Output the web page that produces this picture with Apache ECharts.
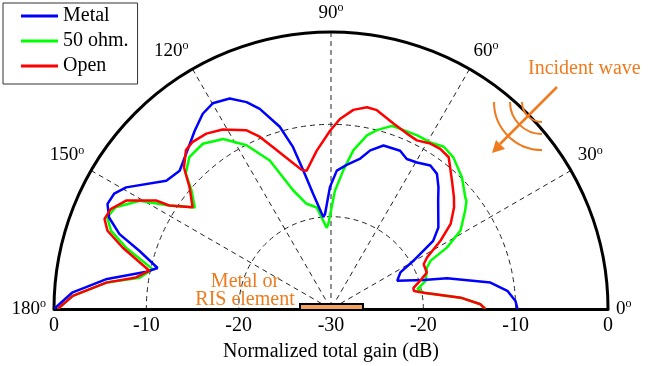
<!DOCTYPE html>
<html>
<head>
<meta charset="utf-8">
<script src="https://cdn.jsdelivr.net/npm/echarts@6/dist/echarts.min.js"></script>
<style>html,body{margin:0;padding:0;background:#fff}#chart{width:670px;height:366px}</style>
</head>
<body>
<div id="chart"></div>
<script>
// angle (deg) and normalized gain (dB)
var metalAng = [0, 2.5, 5.9, 9.4, 14.9, 17.4, 23.1, 27.8, 30.3, 33.7, 37.2, 45.3, 48.6, 51.9, 55.3, 59.6, 63.2, 66.4, 72.2, 76.1, 79.0, 83.8, 87.6, 90.5, 93.6, 94.8, 98.8, 101.3, 103.2, 105.7, 109.6, 112.2, 115.7, 119.9, 123.3, 127.4, 133.0, 137.6, 141.1, 142.1, 149.3, 152.0, 154.8, 157.6, 160.5, 163.1, 166.7, 168.6, 172.5, 176.4, 180];
var metalDb  = [-9.8, -10.0, -10.8, -12.5, -17.0, -19.5, -22.2, -21.5, -19.7, -16.7, -15.4, -13.5, -12.4, -11.4, -11.1, -11.6, -11.8, -11.3, -11.4, -12.3, -13.4, -14.3, -15.0, -16.8, -19.7, -20.0, -17.4, -14.7, -12.0, -9.5, -7.0, -5.8, -4.7, -4.3, -4.7, -5.7, -7.0, -7.8, -7.5, -7.4, -4.2, -3.4, -3.25, -4.0, -5.7, -8.3, -10.7, -9.6, -5.4, -1.9, 0];

var ohmAng = [0, 1.8, 5.0, 10.0, 12.9, 16.6, 23.3, 25.9, 27.9, 31.2, 36.2, 38.7, 39.7, 45.1, 51.1, 55.2, 59.2, 63.6, 67.9, 71.6, 75.6, 78.3, 82.0, 84.9, 88.1, 91.8, 93.0, 98.0, 103.1, 107.7, 112.4, 117.3, 122.4, 127.8, 133.0, 137.0, 139.7, 143.3, 147.4, 150.5, 154.7, 157.7, 160.4, 163.3, 167.4, 170.7, 173.3, 177.1, 180];
var ohmDb  = [-13.3, -13.8, -15.9, -19.8, -20.4, -19.3, -18.7, -18.0, -15.8, -13.6, -12.0, -11.2, -11.1, -9.9, -8.9, -8.6, -9.0, -9.0, -9.1, -9.1, -10.0, -10.8, -12.65, -14.9, -17.2, -20.8, -21.2, -18.9, -18.3, -16.5, -12.6, -10.05, -8.2, -7.35, -7.5, -8.5, -10.2, -11.6, -9.2, -6.2, -4.2, -3.8, -4.7, -6.8, -10.2, -9.0, -5.5, -2.0, -0.4];

var openAng = [0, 1.8, 5.0, 10.0, 12.3, 14.2, 17.5, 20.8, 25.8, 28.2, 32.0, 35.4, 39.6, 42.3, 46.7, 52.2, 55.7, 59.0, 63.0, 66.6, 71.4, 77.0, 79.9, 83.6, 87.3, 90.3, 95.2, 100.0, 101.9, 105.5, 109.7, 112.5, 115.3, 121.1, 125.4, 129.6, 132.4, 136.1, 139.3, 143.7, 147.4, 148.2, 152.1, 155.6, 158.3, 160.7, 163.6, 168.1, 170.8, 173.3, 177.1, 180];
var openDb  = [-13.3, -13.8, -15.9, -19.8, -20.8, -20.8, -19.9, -18.9, -18.85, -18.2, -16.0, -14.1, -12.7, -12.0, -10.9, -9.2, -9.0, -9.1, -9.5, -9.3, -8.8, -7.9, -7.8, -8.3, -9.4, -10.7, -12.8, -14.8, -14.6, -13.3, -11.4, -9.8, -8.6, -7.3, -6.7, -6.5, -6.7, -7.9, -9.8, -11.4, -9.2, -7.7, -4.9, -3.8, -3.6, -4.35, -6.5, -9.9, -8.6, -5.5, -2.0, -0.4];

var angleTicks = [0, 30, 60, 90, 120, 150, 180];
var gainTicks = [-30, -20, -10, 0];

function pairs(ang, db) {
  return ang.map(function (a, i) { return [db[i], a]; });
}

var serif = 'Liberation Serif';
var orange = '#ee7b1e';
var dash = { color: '#222', type: [5, 4], width: 1 };

var chart = echarts.init(document.getElementById('chart'));

var option = {
  animation: false,
  textStyle: { fontFamily: serif },
  legend: {
    left: 3, top: 3,
    orient: 'vertical',
    data: ['Metal', '50 ohm.', 'Open'],
    icon: 'rect',
    itemWidth: 37, itemHeight: 3,
    itemGap: 5,
    padding: [3, 9, 8, 18],
    borderColor: '#333', borderWidth: 1,
    textStyle: { fontFamily: serif, fontSize: 20, color: '#000' }
  },
  polar: { center: [331, 309], radius: 277 },
  angleAxis: {
    type: 'value', min: angleTicks[0], max: angleTicks[angleTicks.length - 1], interval: 30,
    startAngle: 0, endAngle: 180, clockwise: false,
    axisLine: { lineStyle: { color: '#000', width: 3 } },
    axisTick: { show: false },
    splitLine: { lineStyle: dash },
    axisLabel: {
      margin: 8,
      formatter: function (v) { return '{n|' + v + '}{o|o}'; },
      rich: {
        n: { fontFamily: serif, fontSize: 19, color: '#000' },
        o: { fontFamily: serif, fontSize: 12, color: '#000', padding: [0, 0, 10, 0] }
      }
    }
  },
  radiusAxis: {
    type: 'value', min: gainTicks[0], max: gainTicks[gainTicks.length - 1], interval: 10,
    axisLine: { show: false }, axisTick: { show: false }, axisLabel: { show: false },
    splitLine: { lineStyle: dash }
  },
  grid: { left: 54, right: 62, top: 200, bottom: 57 },
  xAxis: {
    type: 'value', min: -30, max: 30, interval: 10,
    axisLine: { lineStyle: { color: '#000', width: 3 } },
    axisTick: { show: false },
    splitLine: { show: false },
    axisLabel: {
      margin: 7, fontFamily: serif, fontSize: 20, color: '#000',
      formatter: function (v) { return String(Math.abs(v) - 30); }
    },
    name: 'Normalized total gain (dB)', nameLocation: 'middle', nameGap: 33,
    nameTextStyle: { fontFamily: serif, fontSize: 20, color: '#000' }
  },
  yAxis: { type: 'value', show: false, min: 0, max: 1 },
  series: [
    { name: '50 ohm.', type: 'line', coordinateSystem: 'polar', data: pairs(ohmAng, ohmDb),
      showSymbol: false, lineStyle: { color: '#00ff00', width: 2.5 }, itemStyle: { color: '#00ff00' } },
    { name: 'Metal', type: 'line', coordinateSystem: 'polar', data: pairs(metalAng, metalDb),
      showSymbol: false, lineStyle: { color: '#0000ff', width: 2.5 }, itemStyle: { color: '#0000ff' } },
    { name: 'Open', type: 'line', coordinateSystem: 'polar', data: pairs(openAng, openDb),
      showSymbol: false, lineStyle: { color: '#ff0000', width: 2.5 }, itemStyle: { color: '#ff0000' } }
  ],
  graphic: [
    { type: 'rect', shape: { x: 300, y: 304, width: 63, height: 6 }, z: 100,
      style: { fill: '#f4a262', stroke: '#000', lineWidth: 2 } },
    { type: 'text', x: 245, y: 273, z: 100,
      style: { text: 'Metal or\nRIS element', fill: orange, font: '20px "Liberation Serif"', align: 'center', lineHeight: 18 } },
    { type: 'text', x: 528, y: 59, z: 100,
      style: { text: 'Incident wave', fill: orange, font: '20px "Liberation Serif"' } },
    { type: 'polyline', z: 100, shape: { points: [[557, 87], [500, 144]] },
      style: { stroke: orange, lineWidth: 2.5 } },
    { type: 'polygon', z: 100, shape: { points: [[492, 153], [505, 149], [496, 140]] },
      style: { fill: orange } },
    { type: 'arc', z: 100, shape: { cx: 542, cy: 102, r: 20, startAngle: Math.PI / 2, endAngle: Math.PI, clockwise: true },
      style: { stroke: orange, lineWidth: 2, fill: null } },
    { type: 'arc', z: 100, shape: { cx: 542, cy: 102, r: 32, startAngle: Math.PI / 2, endAngle: Math.PI, clockwise: true },
      style: { stroke: orange, lineWidth: 2, fill: null } },
    { type: 'arc', z: 100, shape: { cx: 542, cy: 102, r: 48, startAngle: Math.PI / 2, endAngle: Math.PI, clockwise: true },
      style: { stroke: orange, lineWidth: 2, fill: null } }
  ]
};

chart.setOption(option);
</script>
</body>
</html>
